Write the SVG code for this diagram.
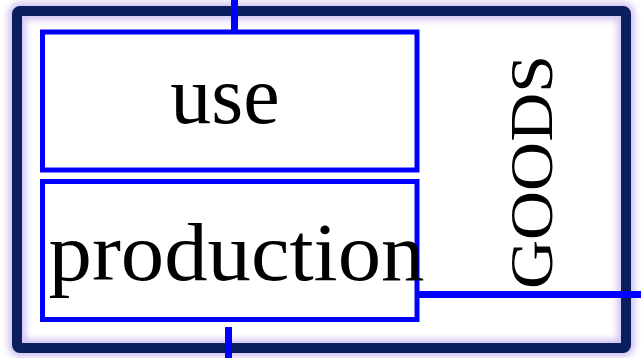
<svg xmlns="http://www.w3.org/2000/svg" width="641" height="358" viewBox="0 0 641 358">
  <defs>
    <filter id="glow" x="-10%" y="-10%" width="120%" height="120%">
      <feGaussianBlur stdDeviation="3"/>
    </filter>
    <style>
      .box { fill: none; stroke: #0000ff; stroke-width: 5; }
      .conn { stroke: #0000ff; stroke-width: 7; fill: none; }
      .lbl { font-family: "Liberation Serif", "Times New Roman", serif; fill: #000; }
    </style>
  </defs>
  <rect width="641" height="358" fill="#ffffff"/>
  <g id="goods">
    <rect x="17" y="11" width="609" height="337" rx="3" fill="none" stroke="#c8b6ee" stroke-width="18" filter="url(#glow)" opacity="0.8"/>
    <rect x="17" y="11" width="609" height="337" rx="3" fill="none" stroke="#0b1f5e" stroke-width="10"/>
    <text class="lbl" transform="translate(552,172) rotate(-90)" text-anchor="middle" font-size="62" textLength="234" lengthAdjust="spacingAndGlyphs">GOODS</text>
  </g>
  <g id="connectors">
    <line class="conn" x1="234.5" y1="0" x2="234.5" y2="32"/>
    <line class="conn" x1="228.5" y1="327" x2="228.5" y2="358"/>
    <line class="conn" x1="417" y1="294.5" x2="641" y2="294.5"/>
  </g>
  <g id="use">
    <rect class="box" x="42.5" y="32" width="374.5" height="138"/>
    <text class="lbl" x="225" y="123" text-anchor="middle" font-size="82">use</text>
  </g>
  <g id="production">
    <rect class="box" x="42.5" y="181.5" width="374.5" height="138"/>
    <text class="lbl" x="236.5" y="280" text-anchor="middle" font-size="82" textLength="376" lengthAdjust="spacingAndGlyphs">production</text>
  </g>
</svg>
